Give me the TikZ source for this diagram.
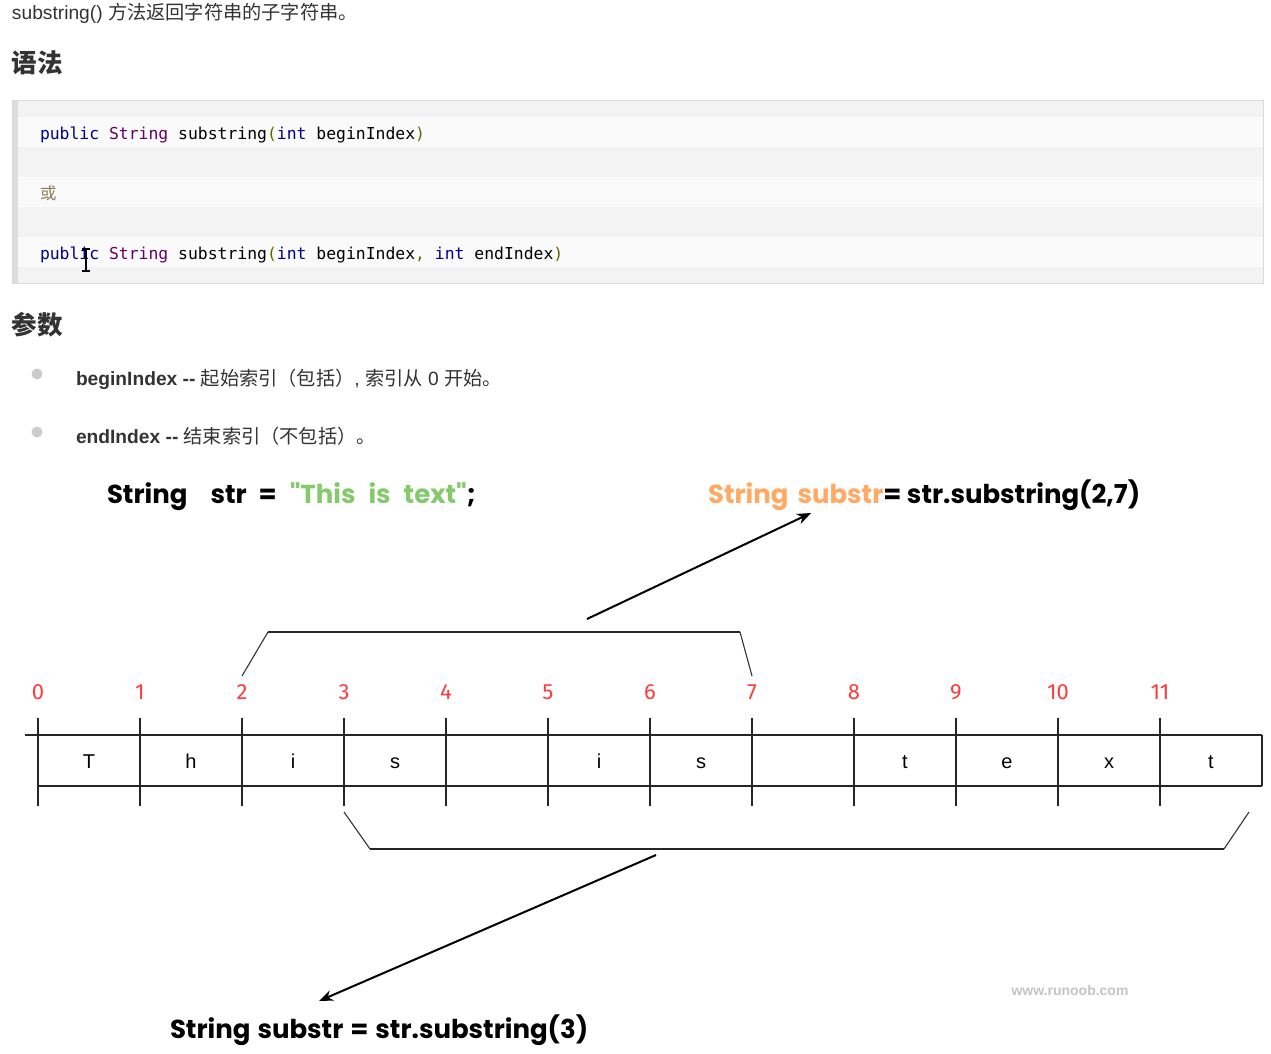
\documentclass[tikz,border=0pt]{standalone}
\usepackage{fontspec}
\setmainfont{Liberation Sans}
\newfontfamily\cjk{Noto Sans CJK SC}
\newfontfamily\codefont{DejaVu Sans Mono}
\newfontfamily\comic{Poppins}
\newfontfamily\digitfont{Fira Sans}
\usetikzlibrary{arrows.meta}
\definecolor{txt}{HTML}{333333}
\definecolor{codeA}{HTML}{F3F3F3}
\definecolor{codeB}{HTML}{FAFAFA}
\definecolor{codeBar}{HTML}{DDDDDD}
\definecolor{codeBorder}{HTML}{DADADA}
\definecolor{kwd}{HTML}{000088}
\definecolor{typ}{HTML}{660066}
\definecolor{pun}{HTML}{666600}
\definecolor{cmt}{HTML}{8B7D5A}
\definecolor{bul}{HTML}{CCCCCC}
\definecolor{idx}{HTML}{FF3B3B}
\definecolor{strgreen}{HTML}{84C96C}
\definecolor{orng}{HTML}{FFA963}
\definecolor{wm}{HTML}{C4C4C4}
\newcommand{\bodysize}{\fontsize{19.2}{23}\selectfont}
\newcommand{\codesize}{\fontsize{16.4}{20}\selectfont}
\begin{document}
\begin{tikzpicture}[x=1pt,y=-1pt,
  every node/.style={inner sep=0pt,outer sep=0pt},
  bodytext/.style={anchor=base west,text=txt,font=\bodysize},
  headtext/.style={anchor=base west,text=txt,font=\fontsize{25.5}{28}\selectfont\cjk\bfseries},
  codetext/.style={anchor=base west,font=\codesize\codefont},
  comictext/.style={anchor=base west,font=\fontsize{26}{30}\selectfont\comic\bfseries},
  digit/.style={anchor=base,text=idx,font=\fontsize{22}{24}\selectfont\digitfont},
  letter/.style={anchor=base,font=\fontsize{20}{24}\selectfont},
  gridline/.style={line width=1.1pt,black!85},
  bracketside/.style={line width=1.1pt,black!80},
  brackettop/.style={line width=2.2pt,black!85},
  pointer/.style={line width=2pt,-{Stealth[length=14pt,width=11pt]}}]
\useasboundingbox[fill=white] (0,0) rectangle (1271,1054);

% ---------- header text ----------
\node[bodytext] (intro) at (12,20) {substring() {\cjk 方法返回字符串的子字符串。}};
\node[headtext] (h1) at (12,73) {语法};

% ---------- code block ----------
\fill[codeA] (12,101) rectangle (1263,283);
\foreach \y in {117,177,237} \fill[codeB] (18,\y) rectangle (1263,\y+30);
\fill[codeBar] (12,101) rectangle (18,283);
\draw[codeBorder,line width=1pt] (12,101) rectangle (1263,283);
\node[codetext] (code1) at (40,139.5) {\textcolor{kwd}{public} \textcolor{typ}{String} substring\textcolor{pun}{(}\textcolor{kwd}{int} beginIndex\textcolor{pun}{)}};
\node[codetext,anchor=base west] (code2) at (40,199) {\textcolor{cmt}{\cjk\fontsize{16.4}{20}\selectfont 或}};
\node[codetext] (code3) at (40,259.5) {\textcolor{kwd}{public} \textcolor{typ}{String} substring\textcolor{pun}{(}\textcolor{kwd}{int} beginIndex\textcolor{pun}{,} \textcolor{kwd}{int} endIndex\textcolor{pun}{)}};
% text cursor
\draw[line width=1.6pt] (82,249) -- (90,249) (86,249) -- (86,271) (82,271) -- (90,271);

% ---------- parameters ----------
\node[headtext] (h2) at (12,334) {参数};
\fill[bul] (37,374) circle (5.5);
\fill[bul] (37,432) circle (5.5);
\node[bodytext] (p1) at (76,385) {\textbf{beginIndex -{}-} {\cjk 起始索引（包括）}, {\cjk 索引从} 0 {\cjk 开始。}};
\node[bodytext] (p2) at (76,443) {\textbf{endIndex -{}-} {\cjk 结束索引（不包括）。}};

% ---------- diagram texts ----------
\node[comictext] (decl) at (107,503) {String\hspace{23pt}str\hspace{12pt}=\hspace{13pt}\textcolor{strgreen}{"This\hspace{13pt}is\hspace{13pt}text"};};
\node[comictext] (sub27) at (708,503) {\textcolor{orng}{String\hspace{9pt}substr}= str.substring(2,7)};
\node[comictext] (sub3) at (170,1038) {String\hspace{7pt}substr\hspace{7pt}=\hspace{7pt}str.substring(3)};

% ---------- index row ----------
\foreach \i in {0,...,11} {
  \node[digit] (d\i) at (38+102*\i,699) {\i};
  \draw[gridline] (38+102*\i,718) -- (38+102*\i,806);
}
\draw[gridline] (25,735) -- (1262,735);
\draw[gridline] (38,786) -- (1262,786);
\draw[gridline] (1262,735) -- (1262,786);
\foreach \c [count=\k from 0] in {T,h,i,s,{},i,s,{},t,e,x,t}
  \node[letter] (c\k) at (89+102*\k,768) {\c};

% ---------- upper bracket and arrow ----------
\coordinate (ta) at (242,676);
\coordinate (tb) at (268,632);
\coordinate (tc) at (740,632);
\coordinate (td) at (752,676);
\draw[bracketside] (ta) -- (tb);
\draw[brackettop] (tb) -- (tc);
\draw[bracketside] (tc) -- (td);
\coordinate (upstart) at (587,619);
\coordinate (upend) at (811,513);
\draw[pointer] (upstart) -- (upend);

% ---------- lower bracket and arrow ----------
\coordinate (ba) at (344,812);
\coordinate (bb) at (370,849);
\coordinate (bc) at (1224,849);
\coordinate (bd) at (1249,812);
\draw[bracketside] (ba) -- (bb);
\draw[brackettop] (bb) -- (bc);
\draw[bracketside] (bc) -- (bd);
\coordinate (downstart) at (656,855);
\coordinate (downend) at (319,1001);
\draw[pointer] (downstart) -- (downend);

% ---------- watermark ----------
\node[text=wm,font=\fontsize{14}{16}\selectfont\bfseries] (wmark) at (1070,990) {www.runoob.com};
\end{tikzpicture}
\end{document}
